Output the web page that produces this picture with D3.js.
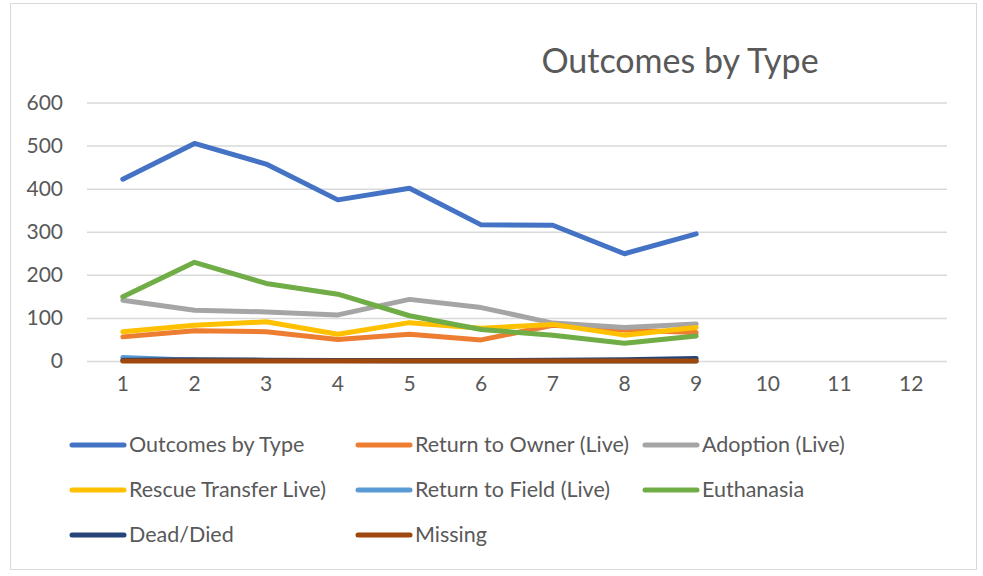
<!DOCTYPE html>
<html><head><meta charset="utf-8">
<script src="https://cdn.jsdelivr.net/npm/d3@7"></script>
<style>body{margin:0;background:#fff;} svg{display:block;font-family:Lato,"Open Sans",sans-serif;}</style>
</head><body><svg id="c" width="983" height="576"></svg>
<script>
const categories = [1,2,3,4,5,6,7,8,9,10,11,12];
const yTicks = [0,100,200,300,400,500,600];
const seriesNames = ["Outcomes by Type","Return to Owner (Live)","Adoption (Live)","Rescue Transfer Live)","Return to Field (Live)","Euthanasia","Dead/Died","Missing"];
const seriesColors = ["#4472C4","#ED7D31","#A5A5A5","#FFC000","#5B9BD5","#70AD47","#264478","#9E480E"];
const outcomesByType = [422,505,457,374,401,316,315,249,295];
const returnToOwner = [56,70,68,50,62,49,83,72,66];
const adoption = [141,118,114,107,143,124,88,78,86];
const rescueTransfer = [68,83,91,62,89,76,85,60,78];
const returnToField = [8,2,1,1,0,0,0,0,0];
const euthanasia = [149,229,180,155,105,73,60,41,58];
const deadDied = [2,3,2,1,1,1,2,3,6];
const missing = [0,0,0,0,0,0,0,0,0];
const seriesValues = [outcomesByType,returnToOwner,adoption,rescueTransfer,returnToField,euthanasia,deadDied,missing];

const svg = d3.select("#c");
svg.append("rect").attr("x",10.5).attr("y",3.5).attr("width",966).attr("height",566)
  .attr("fill","#fff").attr("stroke","#d9d9d9").attr("stroke-width",1);

svg.append("text").attr("x",680).attr("y",73).attr("text-anchor","middle")
  .attr("font-size",34).attr("fill","#595959").text("Outcomes by Type");

const x = d3.scaleBand().domain(categories).range([87,947]);
const y = d3.scaleLinear().domain([0,600]).range([361,102.5]);

const yAxis = svg.append("g").attr("transform","translate(87,0)")
  .call(d3.axisLeft(y).tickValues(yTicks).tickSize(-860).tickPadding(24));
yAxis.select(".domain").remove();
yAxis.selectAll("line").attr("stroke","#d9d9d9").attr("stroke-width",1.5);
yAxis.selectAll("text").attr("font-size",21).attr("fill","#595959").attr("font-family","Lato,'Open Sans',sans-serif");

const xAxis = svg.append("g").attr("transform","translate(0,361)")
  .call(d3.axisBottom(x).tickSize(0).tickPadding(15));
xAxis.select(".domain").remove();
xAxis.selectAll("text").attr("font-size",21).attr("fill","#595959").attr("font-family","Lato,'Open Sans',sans-serif");

const line = d3.line().x((d,i)=>x(categories[i])+x.bandwidth()/2).y(d=>y(d));
seriesValues.forEach((vals,k)=>{
  svg.append("path").datum(vals).attr("d",line).attr("fill","none")
    .attr("stroke",seriesColors[k]).attr("stroke-width",5)
    .attr("stroke-linejoin","round").attr("stroke-linecap","round");
});

const colX = [70,356,643];
const rowY = [445,490,535];
seriesNames.forEach((n,k)=>{
  const cx = colX[k%3], cy = rowY[Math.floor(k/3)];
  svg.append("line").attr("x1",cx+2).attr("x2",cx+54).attr("y1",cy).attr("y2",cy)
    .attr("stroke",seriesColors[k]).attr("stroke-width",5).attr("stroke-linecap","round");
  svg.append("text").attr("x",cx+59).attr("y",cy+7).attr("font-size",21.5)
    .attr("fill","#595959").text(n);
});
</script></body></html>
